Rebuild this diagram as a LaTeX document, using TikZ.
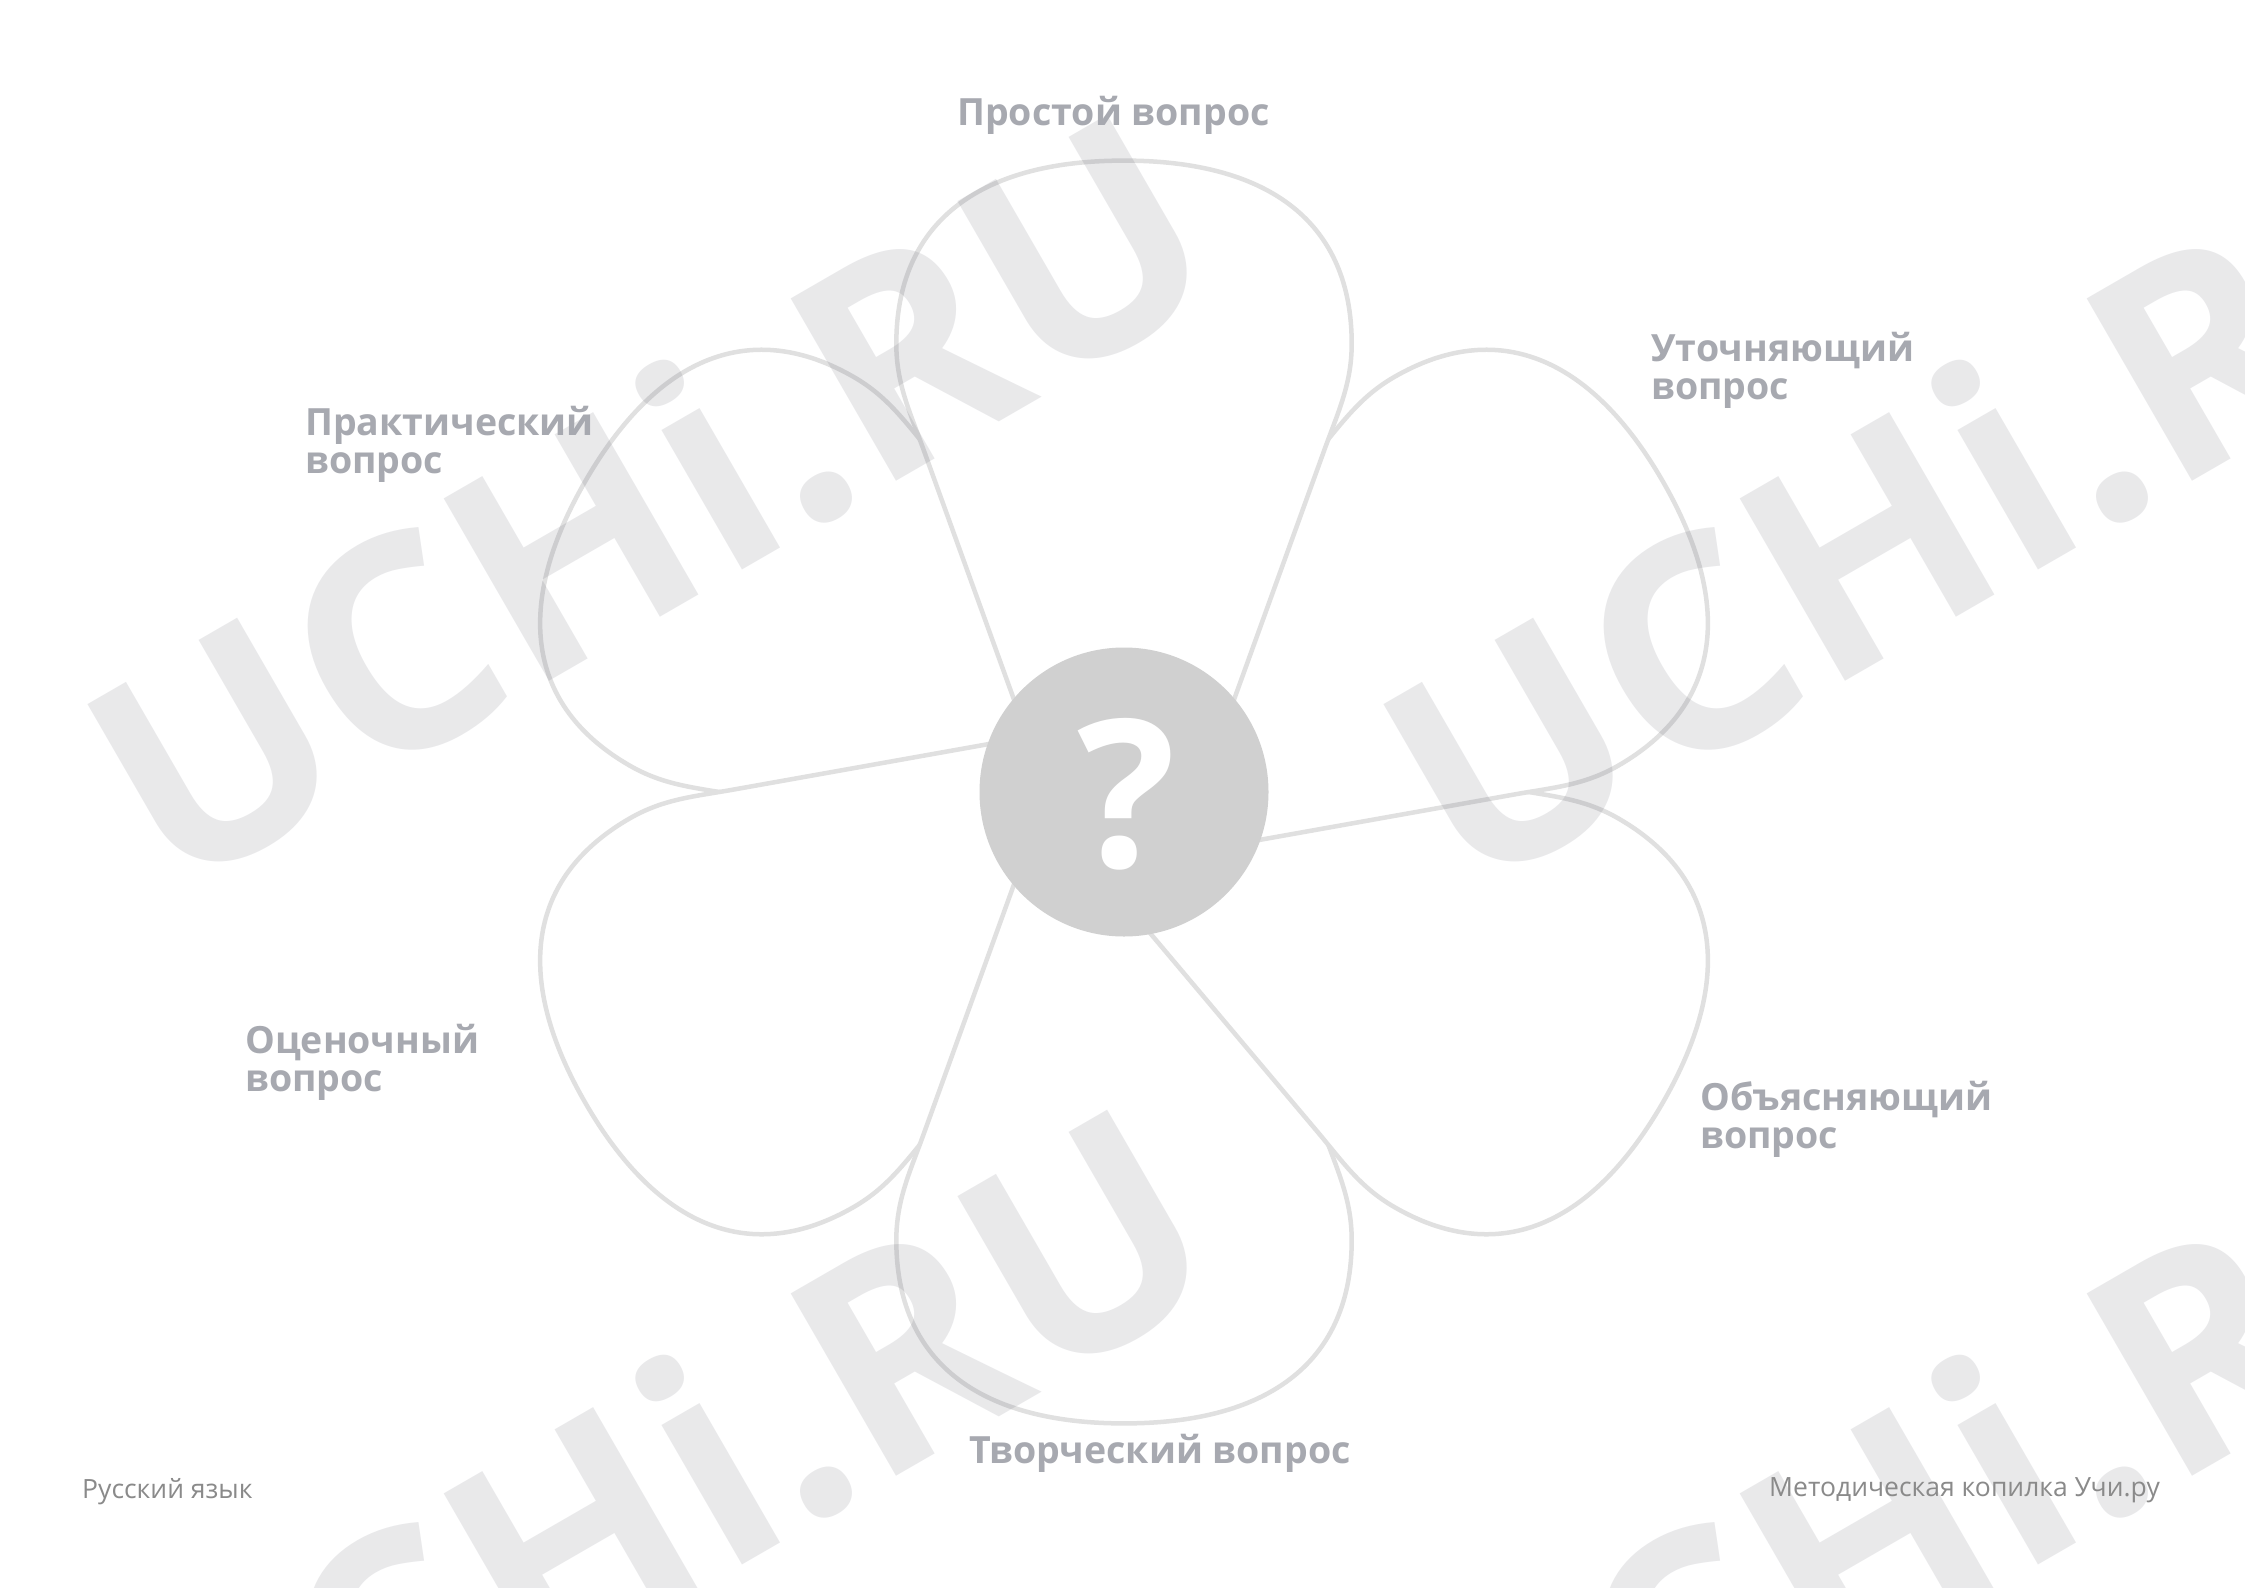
\documentclass[tikz,border=0pt]{standalone}
\usepackage{fontspec}
\setmainfont{Open Sans}
\definecolor{lblgray}{RGB}{167,169,176}
\definecolor{footgray}{RGB}{138,138,138}
\definecolor{petalline}{RGB}{224,224,224}
\definecolor{centerfill}{RGB}{208,208,208}
\definecolor{wmcolor}{RGB}{75,75,90}
\newcommand\flowerpetal[2]{%
\begin{scope}[shift={(1124,792)},rotate=#1,scale=#2]
\draw[petalstyle] (-76.6,0) -- (-200.4,-342.2) .. controls (-214,-379.8) and (-227.7,-408) .. (-227.7,-448.2) .. controls (-227.7,-567.3) and (-148,-631.4) .. (0,-631.4) .. controls (148,-631.4) and (227.7,-567.3) .. (227.7,-448.2) .. controls (227.7,-408) and (214,-379.8) .. (200.4,-342.2) -- (76.6,0) -- cycle;
\end{scope}}
\begin{document}
\begin{tikzpicture}[x=1pt,y=-1pt,
  petalstyle/.style={draw=petalline, line width=4.5pt, fill=white, line join=round},
  lbl/.style={inner sep=0pt, text=lblgray, font=\bfseries\fontsize{37.5}{40}\selectfont},
  foot/.style={inner sep=0pt, text=footgray, font=\fontsize{26.5}{30}\selectfont},
  wm/.style={inner sep=0pt, text=wmcolor, text opacity=0.12, font=\bfseries\fontsize{295}{300}\selectfont}]
\useasboundingbox (0,0) rectangle (2245,1587);
\fill[white] (0,0) rectangle (2245,1587);
% petals, bottom of the stack first
\flowerpetal{60}{0.985}
\flowerpetal{120}{0.985}
\flowerpetal{180}{1}
\flowerpetal{-120}{0.985}
\flowerpetal{-60}{0.985}
\flowerpetal{0}{1}
\node[circle, fill=centerfill, minimum size=289pt, inner sep=0pt] (core) at (1124,792) {};
\node[inner sep=0pt, text=white, anchor=base, font=\bfseries\fontsize{206}{220}\selectfont] (qmark) at (1127,867) {?};
% watermark
\begin{scope}
\clip (0,0) rectangle (2245,1587);
\node[wm, rotate=30, anchor=base] (wm1) at (703,592.5) {UCHi.RU};
\node[wm, rotate=30, anchor=base] (wm2) at (1999,592.5) {UCHi.RU};
\node[wm, rotate=30, anchor=base] (wm3) at (703,1587.5) {UCHi.RU};
\node[wm, rotate=30, anchor=base] (wm4) at (1999,1587.5) {UCHi.RU};
\end{scope}
% labels
\node[lbl, anchor=base] (simple) at (1113.5,125) {Простой вопрос};
\node[lbl, anchor=base west] (clarify) at (1651,361) {Уточняющий};
\node[lbl, anchor=base west] (clarify2) at (1651,399) {вопрос};
\node[lbl, anchor=base west] (practical) at (305,435) {Практический};
\node[lbl, anchor=base west] (practical2) at (305,473) {вопрос};
\node[lbl, anchor=base west] (evaluate) at (245,1053) {Оценочный};
\node[lbl, anchor=base west] (evaluate2) at (245,1091) {вопрос};
\node[lbl, anchor=base west] (explain) at (1700,1110) {Объясняющий};
\node[lbl, anchor=base west] (explain2) at (1700,1148) {вопрос};
\node[lbl, anchor=base] (creative) at (1160,1463) {Творческий вопрос};
\node[foot, anchor=base west] (subject) at (82,1498) {Русский язык};
\node[foot, anchor=base west] (source) at (1769,1496) {Методическая копилка Учи.ру};
\end{tikzpicture}
\end{document}
